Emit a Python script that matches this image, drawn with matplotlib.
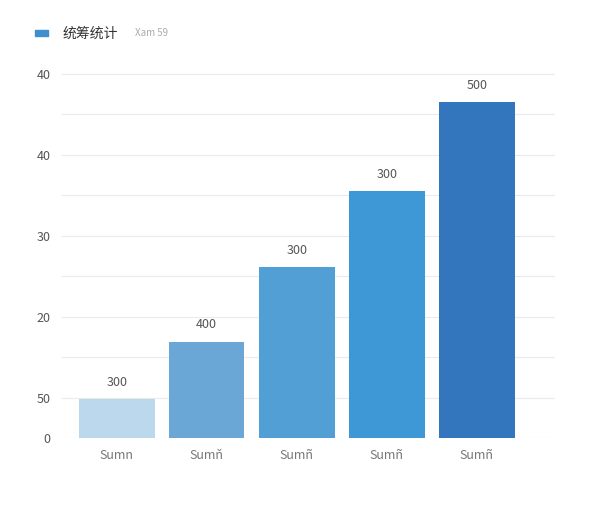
import matplotlib.pyplot as plt

plt.rcParams['font.family'] = ['Noto Sans CJK SC', 'DejaVu Sans']

# 数据
categories = ['Sumn', 'Sumň', 'Sumñ', 'Sumñ', 'Sumñ']
values = [4.8, 11.9, 21.1, 30.5, 41.5]
bar_labels = ['300', '400', '300', '300', '500']
colors = ['#bcd8ec', '#6aa6d6', '#529fd5', '#3f98d6', '#3476bd']
tick_pos = [0, 5, 15, 25, 35, 45]
tick_labels = ['0', '50', '20', '30', '40', '40']

fig = plt.figure(figsize=(6, 5.12), dpi=100)
ax = fig.add_axes([0.103, 0.1445, 0.822, 0.738])

x = range(len(values))
bars = ax.bar(x, values, width=0.84, color=colors, zorder=3)
for b, lab in zip(bars, bar_labels):
    ax.text(b.get_x() + b.get_width() / 2, b.get_height() + 1.3, lab,
            ha='center', va='bottom', fontsize=9, color='#555555')

ax.set_xlim(-0.61, 4.87)
ax.set_ylim(0, 46.7)
ax.set_xticks(list(x))
ax.set_xticklabels(categories, fontsize=9, color='#777777')
ax.set_yticks(tick_pos)
ax.set_yticklabels(tick_labels, fontsize=9, color='#555555')
ax.tick_params(length=0, pad=8)
for y in [0, 5, 10, 15, 20, 25, 30, 35, 40, 45]:
    ax.axhline(y, color='#ebebeb', lw=0.8, zorder=0)
for s in ax.spines.values():
    s.set_visible(False)

# 图例
fig.patches.append(plt.Rectangle((0.058, 0.929), 0.022, 0.012, transform=fig.transFigure,
                                 color='#3f8fcf', figure=fig))
fig.text(0.105, 0.935, '统筹统计', fontsize=10, color='#333333', va='center')
fig.text(0.225, 0.935, 'Xam 59', fontsize=7, color='#aaaaaa', va='center')

fig.savefig('out.png')
